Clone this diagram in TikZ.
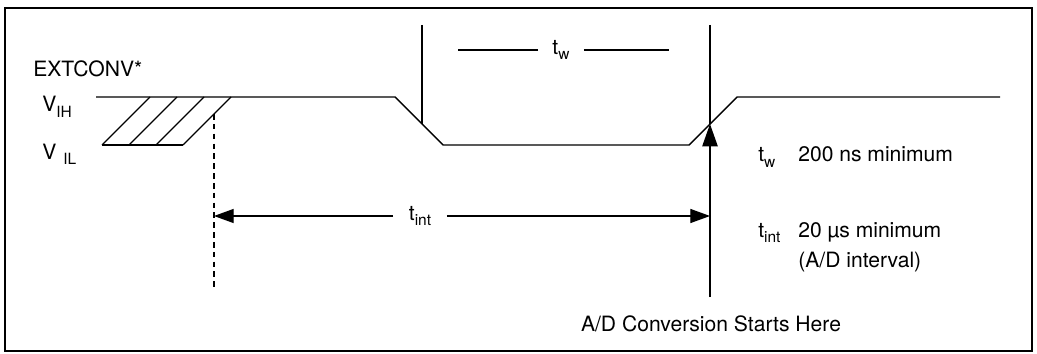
\documentclass[tikz,border=0pt]{standalone}
\usepackage{fontspec}
\setmainfont{TeX Gyre Heros}
\usetikzlibrary{arrows.meta}
\newcommand{\lowtxt}[1]{\raisebox{-0.5ex}{\fontsize{11}{13}\selectfont #1}}

\begin{document}
\begin{tikzpicture}[x=0.025cm,y=-0.025cm,
   font=\fontsize{15}{18}\selectfont,
   sig/.style={line width=1pt},
   txt/.style={inner sep=0pt,anchor=base west},
   dimlbl/.style={inner xsep=13pt,inner ysep=0pt},
   dim/.style={line width=0.8pt,-{Triangle[length=14pt,width=10pt]}}]
   \useasboundingbox (0,0) rectangle (1037,354);
   \draw[line width=1.5pt] (5,8) rectangle (1032,351);
   % labels
   \node[txt] (ext) at (33,77) {EXTCONV*};
   \node[txt] (vih) at (42,112) {V\lowtxt{IH}};
   \node[txt] (vil) at (42,159) {V\hspace{5pt}\lowtxt{IL}};
   % waveform
   \coordinate (h0) at (96,97);
   \coordinate (f0) at (395,97);
   \coordinate (f1) at (443,145);
   \coordinate (r0) at (689,145);
   \coordinate (r1) at (737,97);
   \coordinate (h1) at (1000,97);
   \draw[sig] (h0) -- (f0) -- (f1) -- (r0) -- (r1) -- (h1);
   % hatched edge
   \draw[sig] (102,145) -- (183,145);
   \foreach \x in {102,129,156,183}
      \draw[sig] (\x,145) -- ++(48,-48);
   \coordinate (dtop) at (214,114);
   \coordinate (dbot) at (214,290);
   \draw[line width=0.8pt,dash pattern=on 4pt off 3pt] (dtop) -- (dbot);
   % markers
   \coordinate (atop) at (422,25);
   \coordinate (aedge) at (422,124);
   \coordinate (btop) at (710,25);
   \coordinate (bedge) at (710,124);
   \coordinate (bbot) at (710,297);
   \draw[sig] (atop) -- (aedge);
   \draw[sig] (btop) -- (bedge);
   \draw[sig,-{Triangle[length=16pt,width=11pt]}] (bbot) -- (bedge);
   % t_w
   \node[dimlbl,inner xsep=10pt] (tw) at (561,50) {t\lowtxt{w}};
   \coordinate (twl) at (458,50);
   \coordinate (twr) at (669,50);
   \draw[sig] (tw.west) -- (twl);
   \draw[sig] (tw.east) -- (twr);
   % t_int
   \node[dimlbl,inner xsep=11pt] (tint) at (420,216) {t\lowtxt{int}};
   \coordinate (til) at (214,216);
   \coordinate (tir) at (710,216);
   \draw[dim] (tint.west) -- (til);
   \draw[dim] (tint.east) -- (tir);
   % notes
   \node[txt] (ntw) at (758,162) {t\lowtxt{w}};
   \node[txt] (ntwv) at (798,162) {200 ns minimum};
   \node[txt] (nti) at (758,237) {t\lowtxt{int}};
   \node[txt] (ntiv) at (798,237) {20 µs minimum};
   \node[txt] (ntiv2) at (798,267) {(A/D interval)};
   \node[anchor=base,inner sep=0pt] (start) at (711,331) {A/D Conversion Starts Here};
\end{tikzpicture}
\end{document}
